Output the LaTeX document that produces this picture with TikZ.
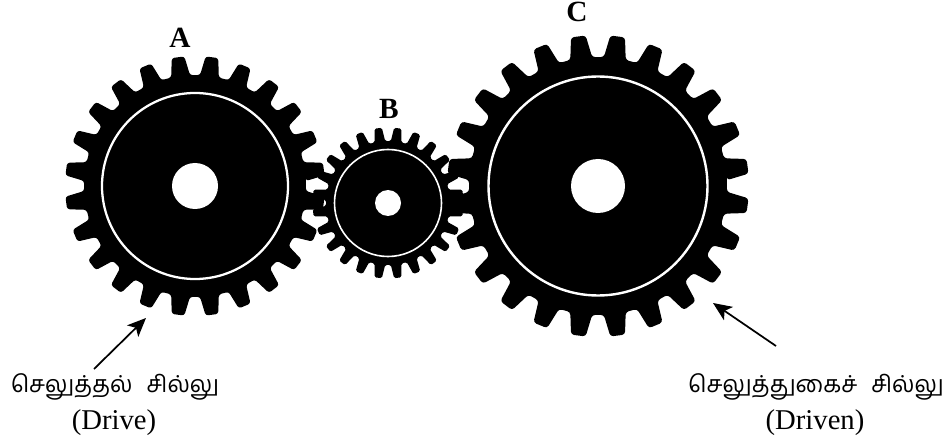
\documentclass[tikz,border=0pt]{standalone}
\usepackage{fontspec}
\usetikzlibrary{arrows.meta}
\setmainfont{Liberation Serif}
\newfontfamily\tamilfont[Script=Tamil]{Hind Madurai}
\tikzset{
  wheel/.style={fill=black,rounded corners=#1},
  rim/.style={draw=white,line width=#1},
  bore/.style={fill=white},
  letter/.style={font=\fontsize{22}{24}\selectfont\bfseries,inner sep=0pt},
  tamil/.style={font=\fontsize{17.5}{20}\tamilfont,inner sep=0pt},
  latin/.style={font=\fontsize{21.5}{24}\selectfont,inner sep=0pt},
  pointer/.style={draw=black,line width=1.3pt,-{Stealth[length=14pt,width=12pt,inset=3.5pt]}},
}
% centre, tip radius, root radius, rim radius, bore radius, corner, rim width
\newcommand{\gearwheel}[7]{
  \fill[wheel=#6,shift={(#1)}] (-7.5+4.9:#3)
    \foreach \k in {0,...,23} {
      -- ({\k*15+7.5-4.9}:#3) -- ({\k*15+7.5-2.8}:#2)
      -- ({\k*15+7.5+2.8}:#2) -- ({\k*15+7.5+4.9}:#3)
    } -- cycle;
  \draw[rim=#7] (#1) circle[radius=#4];
  \fill[bore] (#1) circle[radius=#5];
}
\begin{document}
\begin{tikzpicture}[x=0.75pt,y=-0.75pt]
\useasboundingbox (0,0) rectangle (952,445);
\coordinate (gearA) at (195,186);
\coordinate (gearB) at (388,203);
\coordinate (gearC) at (598,186);
\gearwheel{gearA}{130}{111}{93}{23}{2pt}{1.7pt}
\gearwheel{gearB}{75.5}{62}{53.5}{13}{1.2pt}{1.2pt}
\gearwheel{gearC}{151}{129}{109.5}{27}{2.3pt}{1.8pt}
\node[letter] (labA) at (180,38) {A};
\node[letter] (labB) at (389,109) {B};
\node[letter] (labC) at (577,12) {C};
\node[tamil] (driveTa) at (115,387) {செலுத்தல்\hspace{0.6em}சில்லு};
\node[latin] (driveEn) at (114,423) {(Drive)};
\node[tamil] (drivenTa) at (816,387) {செலுத்துகைச்\hspace{0.6em}சில்லு};
\node[latin] (drivenEn) at (815,423) {(Driven)};
\coordinate (tailA) at (94,369);
\coordinate (tipA) at (146,318);
\coordinate (tailC) at (776,346);
\coordinate (tipC) at (713,303);
\draw[pointer] (tailA) -- (tipA);
\draw[pointer] (tailC) -- (tipC);
\end{tikzpicture}
\end{document}
